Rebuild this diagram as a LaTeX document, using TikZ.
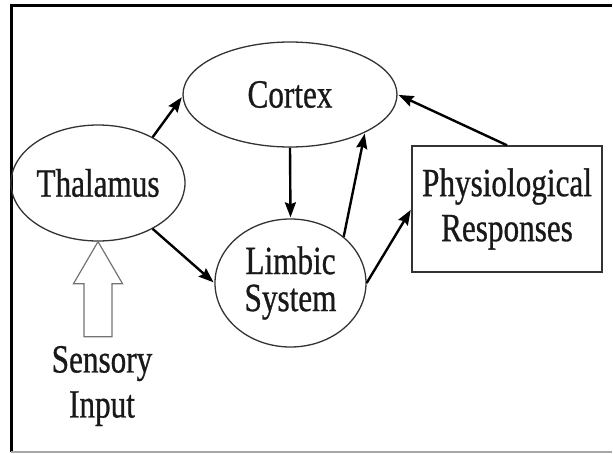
\documentclass[tikz,border=0pt]{standalone}
\usepackage{fontspec}
\newfontfamily\diagfont[FakeStretch=0.78,FakeBold=0.7]{Liberation Serif}
\usetikzlibrary{arrows.meta,shapes.geometric}

\begin{document}
\begin{tikzpicture}[x=1pt,y=-1pt,->,>={Stealth[length=15pt,width=11pt,inset=2pt]},
                    shorten >=1pt,line width=2.4pt,
                    font=\diagfont\fontsize{40}{45}\selectfont]
  \tikzstyle{oval}=[ellipse,draw=black!80,line width=1.3pt,inner sep=0pt,text=black!90]
  \useasboundingbox (0,0) rectangle (613,453);
  % frame
  \draw[-,line width=3pt] (11,452) -- (11,5) -- (613,5);
  \draw[-,line width=1.2pt,black!35] (11,452) -- (613,452);

  \node[oval,minimum width=214pt,minimum height=105pt] (C) at (290,94.5) {Cortex};
  \node[oval,minimum width=144pt,minimum height=116pt] (T) at (98,183) {Thalamus};
  \node[oval,minimum width=151pt,minimum height=128pt,align=center,
        font=\diagfont\fontsize{40}{37}\selectfont] (L) at (290.5,283) {Limbic\\System};
  \node[draw=black!80,line width=1.4pt,text=black!90,minimum width=190pt,
        minimum height=126pt,align=center] (P) at (507,209) {Physiological\\Responses};
  \node[align=center,text=black!90] (S) at (102,386) {Sensory\\Input};

  % hollow input arrow
  \draw[-,line width=1.2pt,black!55] (T.south) -- ++(24.5,42) -- ++(-10.5,0) -- ++(0,53)
        -- ++(-28,0) -- ++(0,-53) -- ++(-10.5,0) -- cycle;

  \path (T.40)    edge (C.181)
        (T.320)   edge (L.180)
        (C.south) edge (L.north)
        (L.41)    edge (C.333)
        (L.east)  edge (P.west)
        (P.north) edge (C.east);

\end{tikzpicture}
\end{document}
